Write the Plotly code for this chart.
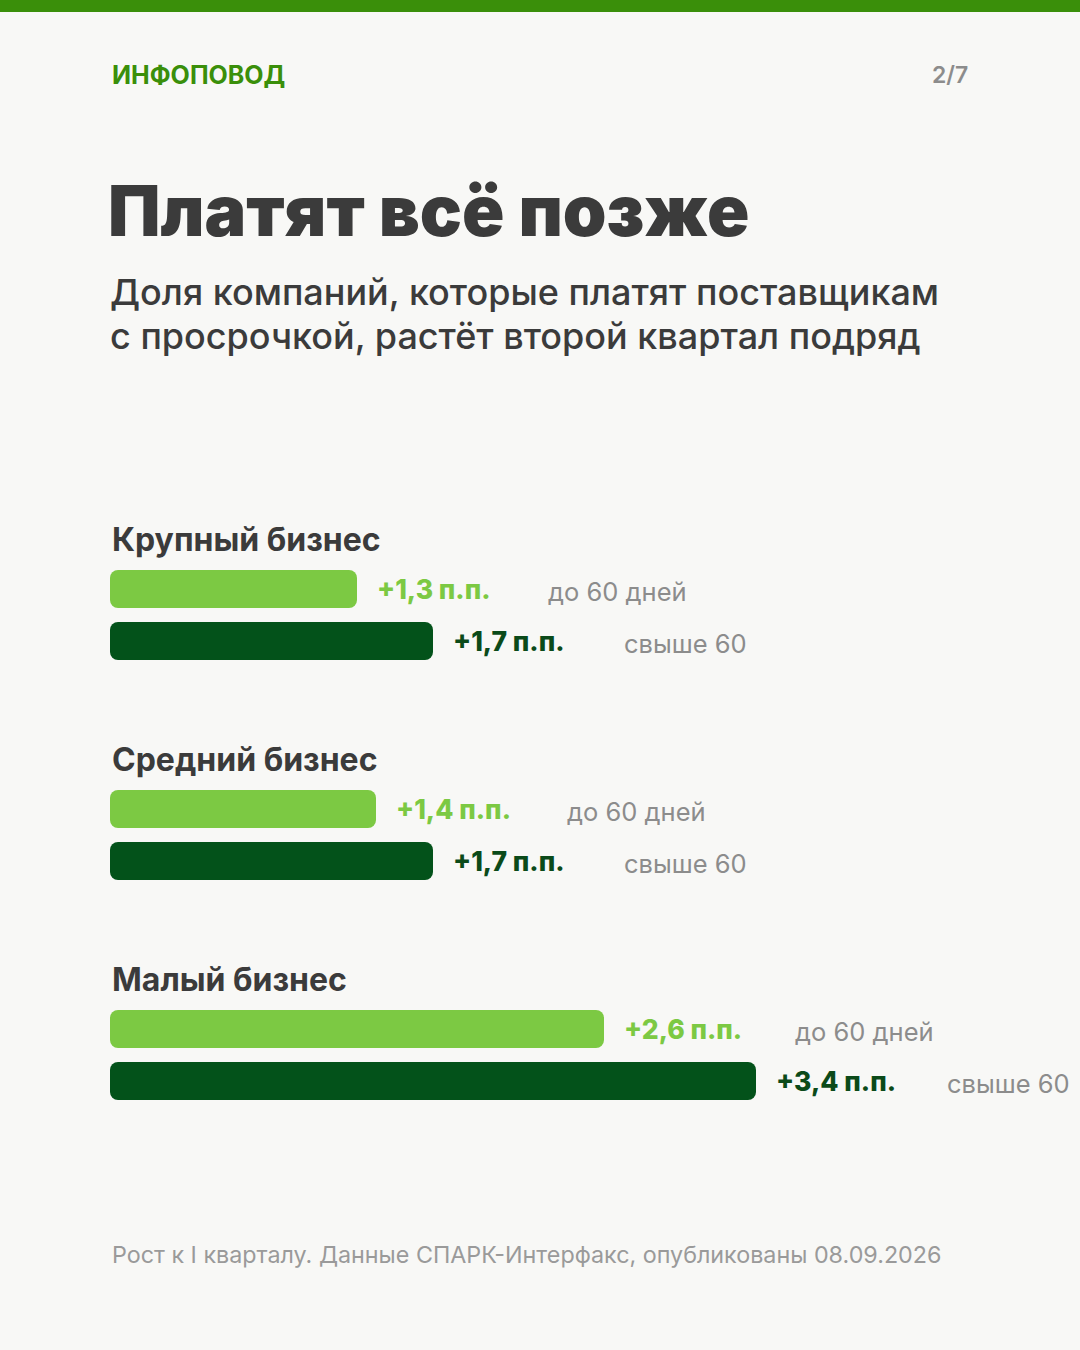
import plotly.graph_objects as go

# ---- data ----
groups = ["Крупный бизнес", "Средний бизнес", "Малый бизнес"]
series_names = ["до 60 дней", "свыше 60"]
up_to_60 = [1.3, 1.4, 2.6]
over_60 = [1.7, 1.7, 3.4]
value_labels_up = ["+1,3 п.п.", "+1,4 п.п.", "+2,6 п.п."]
value_labels_over = ["+1,7 п.п.", "+1,7 п.п.", "+3,4 п.п."]

# ---- style ----
W, H = 1080, 1350
BG = "#f8f8f6"
GREEN_TOP = "#3a8f0a"
LIGHT = "#7cc943"
DARK = "#03521a"
DARK_TXT = "#0b4a19"
GREY = "#8c8c8c"
TEXT = "#3b3b3b"
FONT = "Inter"

LEFT = 110
PX_PER_UNIT = 190.0
GROUP_HEAD_Y0 = 539
BAR1_Y0 = 589
ROW_GAP = 52
GROUP_GAP = 220
BAR_H = 38

fig = go.Figure()

bar_y_light = [BAR1_Y0 + g * GROUP_GAP for g in range(len(groups))]
bar_y_dark = [y + ROW_GAP for y in bar_y_light]

# explicit base -> plotly rounds both ends of each bar
for vals, ys, col, nm in [(up_to_60, bar_y_light, LIGHT, series_names[0]),
                          (over_60, bar_y_dark, DARK, series_names[1])]:
    fig.add_trace(go.Bar(x=vals, base=[0] * len(vals), y=ys,
                         orientation="h", width=BAR_H,
                         marker=dict(color=col, line=dict(width=0)),
                         name=nm, hoverinfo="skip"))

ann = []
def px(x):
    return x / W

# header
ann.append(dict(text="ИНФОПОВОД", x=px(LEFT), y=75, xref="paper", yref="y",
                xanchor="left", yanchor="middle", showarrow=False,
                font=dict(family=FONT, size=25, color=GREEN_TOP, weight=700)))
ann.append(dict(text="2/7", x=px(970), y=75, xref="paper", yref="y",
                xanchor="right", yanchor="middle", showarrow=False,
                font=dict(family=FONT, size=23, color=GREY, weight=600)))
# title
ann.append(dict(text="Платят всё позже", x=px(LEFT - 4), y=210, xref="paper", yref="y",
                xanchor="left", yanchor="middle", showarrow=False,
                font=dict(family=FONT, size=70, color=TEXT, weight=900)))
# subtitle
ann.append(dict(text="Доля компаний, которые платят поставщикам", x=px(LEFT - 2), y=292,
                xref="paper", yref="y", xanchor="left", yanchor="middle", showarrow=False,
                font=dict(family=FONT, size=36, color=TEXT, weight=500)))
ann.append(dict(text="с просрочкой, растёт второй квартал подряд", x=px(LEFT - 2), y=336,
                xref="paper", yref="y", xanchor="left", yanchor="middle", showarrow=False,
                font=dict(family=FONT, size=36, color=TEXT, weight=500)))

for g, name in enumerate(groups):
    ann.append(dict(text=name, x=px(LEFT), y=GROUP_HEAD_Y0 + g * GROUP_GAP, xref="paper", yref="y",
                    xanchor="left", yanchor="middle", showarrow=False,
                    font=dict(family=FONT, size=32, color=TEXT, weight=700)))
    for val, yy, lab, col, cat in [
        (up_to_60[g], bar_y_light[g], value_labels_up[g], LIGHT, series_names[0]),
        (over_60[g], bar_y_dark[g], value_labels_over[g], DARK_TXT, series_names[1]),
    ]:
        ann.append(dict(text=lab, x=val, y=yy, xref="x", yref="y", xshift=18,
                        xanchor="left", yanchor="middle", showarrow=False,
                        font=dict(family=FONT, size=26.5, color=col, weight=800)))
        ann.append(dict(text=cat, x=val, y=yy + 2, xref="x", yref="y", xshift=189,
                        xanchor="left", yanchor="middle", showarrow=False,
                        font=dict(family=FONT, size=25.5, color=GREY, weight=400)))

ann.append(dict(text="Рост к I кварталу. Данные СПАРК-Интерфакс, опубликованы 08.09.2026",
                x=px(LEFT), y=1254, xref="paper", yref="y", xanchor="left", yanchor="middle",
                showarrow=False, font=dict(family=FONT, size=23.3, color="#9a9a9a", weight=400)))

fig.update_layout(
    width=W, height=H,
    margin=dict(l=0, r=0, t=0, b=0),
    paper_bgcolor=BG, plot_bgcolor=BG,
    showlegend=False,
    barmode="overlay",
    barcornerradius=8,
    xaxis=dict(range=[-LEFT / PX_PER_UNIT, (W - LEFT) / PX_PER_UNIT], visible=False, fixedrange=True),
    yaxis=dict(range=[H, 0], visible=False, fixedrange=True),
    annotations=ann,
    shapes=[dict(type="rect", xref="paper", yref="paper", x0=0, x1=1, y0=1 - 12 / H, y1=1,
                 fillcolor=GREEN_TOP, line=dict(width=0))],
)

fig.write_html("out.html", config={"displayModeBar": False},
               post_script="document.body.style.margin='0';document.body.style.overflow='hidden';")
